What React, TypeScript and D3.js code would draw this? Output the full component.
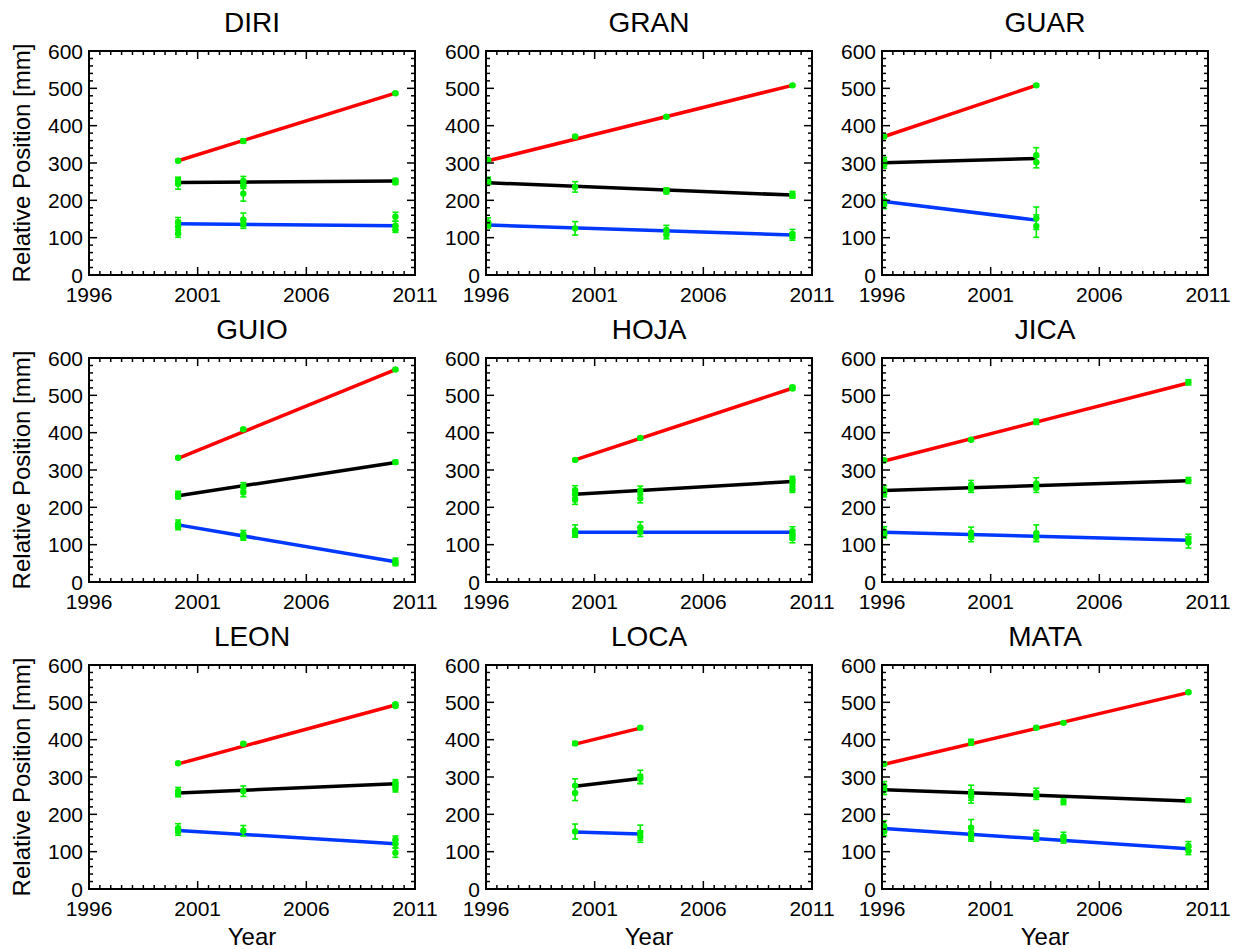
import React from "react";
import * as d3 from "d3";

type Pt = [number, number, number];
type Seg = [number, number, number, number];

const stations = ["DIRI", "GRAN", "GUAR", "GUIO", "HOJA", "JICA", "LEON", "LOCA", "MATA"];
const xTickLabels = [1996, 2001, 2006, 2011];
const yTickLabels = [0, 100, 200, 300, 400, 500, 600];

const redLines: Seg[] = [
  [2000.1, 306, 2010.1, 487],
  [1996.1, 306, 2010.1, 508],
  [1996.1, 371, 2003.1, 508],
  [2000.1, 331, 2010.1, 569],
  [2000.1, 327, 2010.1, 519],
  [1996.1, 324, 2010.1, 533],
  [2000.1, 335, 2010.1, 493],
  [2000.1, 388, 2003.1, 431],
  [1996.1, 334, 2010.1, 526],
];
const blackLines: Seg[] = [
  [2000.1, 248, 2010.1, 252],
  [1996.1, 247, 2010.1, 214],
  [1996.1, 301, 2003.1, 312],
  [2000.1, 231, 2010.1, 320],
  [2000.1, 235, 2010.1, 269],
  [1996.1, 245, 2010.1, 271],
  [2000.1, 257, 2010.1, 282],
  [2000.1, 275, 2003.1, 296],
  [1996.1, 266, 2010.1, 236],
];
const blueLines: Seg[] = [
  [2000.1, 137, 2010.1, 132],
  [1996.1, 134, 2010.1, 107],
  [1996.1, 197, 2003.1, 147],
  [2000.1, 153, 2010.1, 54],
  [2000.1, 133, 2010.1, 133],
  [1996.1, 133, 2010.1, 112],
  [2000.1, 157, 2010.1, 121],
  [2000.1, 153, 2003.1, 147],
  [1996.1, 162, 2010.1, 108],
];

const redPoints: Pt[][] = [
  [[2000.1, 306, 3], [2003.1, 359, 5], [2010.1, 487, 3]],
  [[1996.1, 308, 3], [2000.1, 371, 3], [2004.3, 424, 3], [2010.1, 508, 3]],
  [[1996.1, 371, 3], [2003.1, 508, 3]],
  [[2000.1, 333, 3], [2003.1, 409, 3], [2010.1, 569, 3]],
  [[2000.1, 327, 3], [2003.1, 386, 3], [2010.1, 522, 4], [2010.1, 518, 4]],
  [[1996.1, 326, 3], [2000.1, 381, 3], [2003.1, 429, 7], [2010.1, 535, 7]],
  [[2000.1, 337, 3], [2003.1, 389, 3], [2010.1, 495, 3], [2010.1, 490, 3]],
  [[2000.1, 390, 5], [2003.1, 432, 3]],
  [[1996.1, 335, 3], [2000.1, 393, 8], [2003.1, 432, 3], [2004.35, 445, 3], [2010.1, 527, 3]],
];
const blackPoints: Pt[][] = [
  [[2000.1, 252, 10], [2000.1, 244, 14], [2003.1, 252, 12], [2003.1, 240, 8], [2003.1, 218, 20], [2010.1, 253, 5], [2010.1, 248, 5]],
  [[1996.1, 254, 8], [1996.1, 248, 6], [2000.1, 236, 14], [2004.3, 227, 6], [2004.3, 223, 5], [2010.1, 216, 8], [2010.1, 212, 6]],
  [[1996.1, 305, 10], [1996.1, 296, 10], [2003.1, 321, 20], [2003.1, 302, 15]],
  [[2000.1, 235, 8], [2000.1, 229, 6], [2003.1, 256, 10], [2003.1, 240, 12], [2010.1, 321, 5]],
  [[2000.1, 246, 12], [2000.1, 235, 10], [2000.1, 220, 12], [2003.1, 245, 12], [2003.1, 224, 12], [2010.1, 275, 8], [2010.1, 265, 8], [2010.1, 248, 8]],
  [[1996.1, 246, 12], [1996.1, 238, 10], [2000.1, 260, 12], [2000.1, 250, 10], [2003.1, 264, 15], [2003.1, 252, 12], [2010.1, 272, 8]],
  [[2000.1, 262, 10], [2000.1, 255, 8], [2003.1, 262, 14], [2010.1, 285, 8], [2010.1, 279, 6], [2010.1, 268, 8]],
  [[2000.1, 277, 18], [2000.1, 257, 20], [2003.1, 300, 18], [2003.1, 295, 12]],
  [[1996.1, 276, 12], [1996.1, 265, 12], [2000.1, 258, 20], [2000.1, 248, 18], [2003.1, 258, 12], [2003.1, 250, 10], [2004.35, 234, 8], [2010.1, 238, 5]],
];
const bluePoints: Pt[][] = [
  [[2000.1, 142, 12], [2000.1, 130, 10], [2000.1, 111, 10], [2003.1, 148, 18], [2003.1, 137, 12], [2010.1, 156, 12], [2010.1, 132, 12], [2010.1, 122, 8]],
  [[1996.1, 141, 12], [1996.1, 134, 8], [2000.1, 125, 18], [2004.3, 121, 12], [2004.3, 107, 10], [2010.1, 110, 12], [2010.1, 103, 10]],
  [[1996.1, 200, 15], [1996.1, 190, 12], [2003.1, 152, 30], [2003.1, 131, 30]],
  [[2000.1, 156, 10], [2000.1, 148, 8], [2003.1, 128, 10], [2003.1, 120, 8], [2010.1, 56, 8], [2010.1, 50, 6]],
  [[2000.1, 138, 15], [2000.1, 130, 10], [2003.1, 146, 15], [2003.1, 134, 12], [2010.1, 136, 12], [2010.1, 126, 12], [2010.1, 117, 12]],
  [[1996.1, 136, 12], [1996.1, 128, 10], [2000.1, 132, 15], [2000.1, 120, 12], [2003.1, 131, 22], [2003.1, 120, 12], [2010.1, 116, 12], [2010.1, 106, 15]],
  [[2000.1, 163, 12], [2000.1, 154, 10], [2003.1, 156, 14], [2010.1, 132, 10], [2010.1, 121, 10], [2010.1, 97, 12]],
  [[2000.1, 154, 20], [2003.1, 151, 20], [2003.1, 140, 15]],
  [[1996.1, 168, 15], [1996.1, 155, 12], [2000.1, 164, 22], [2000.1, 150, 18], [2000.1, 140, 12], [2003.1, 145, 12], [2003.1, 138, 10], [2004.35, 140, 12], [2004.35, 133, 10], [2010.1, 115, 12], [2010.1, 102, 10]],
];

const W = 1233;
const H = 949;
const colLeft = [89, 486, 882];
const rowTop = [51, 358, 665];
const PW = 326;
const PH = 224;
const FONT = "'Liberation Sans', Arial, Helvetica, sans-serif";
const GREEN = "#00f000";
const lineColors = ["#ff0000", "#000000", "#0038ff"];

function Panel({ idx }: { idx: number }) {
  const col = idx % 3;
  const row = Math.floor(idx / 3);
  const x0 = colLeft[col];
  const y0 = rowTop[row];
  const x = d3.scaleLinear().domain([1996, 2011]).range([x0, x0 + PW]);
  const y = d3.scaleLinear().domain([0, 600]).range([y0 + PH, y0]);
  const minorX = d3.range(1996, 2011.01, 0.5);
  const minorY = d3.range(0, 601, 20);
  const lines = [redLines[idx], blackLines[idx], blueLines[idx]];
  const pts = [...redPoints[idx], ...blackPoints[idx], ...bluePoints[idx]];
  const lineGen = d3.line<[number, number]>().x((d) => x(d[0])).y((d) => y(d[1]));
  const ticks: React.ReactNode[] = [];
  minorX.forEach((v, i) => {
    const major = Math.abs((v - 1996) % 5) < 1e-6;
    const len = major ? 8 : 4;
    const px = x(v);
    ticks.push(<line key={"xb" + i} x1={px} x2={px} y1={y0 + PH} y2={y0 + PH - len} />);
    ticks.push(<line key={"xt" + i} x1={px} x2={px} y1={y0} y2={y0 + len} />);
  });
  minorY.forEach((v, i) => {
    const major = v % 100 === 0;
    const len = major ? 8 : 4;
    const py = y(v);
    ticks.push(<line key={"yl" + i} x1={x0} x2={x0 + len} y1={py} y2={py} />);
    ticks.push(<line key={"yr" + i} x1={x0 + PW} x2={x0 + PW - len} y1={py} y2={py} />);
  });
  return (
    <g>
      <text x={x0 + PW / 2} y={y0 - 19} textAnchor="middle" fontSize={28} fontFamily={FONT}>
        {stations[idx]}
      </text>
      {lines.map((s, i) => (
        <path
          key={"l" + i}
          d={lineGen([[s[0], s[1]], [s[2], s[3]]]) || ""}
          stroke={lineColors[i]}
          strokeWidth={3.5}
          fill="none"
        />
      ))}
      {pts.map((p, i) => {
        const px = x(p[0]);
        return (
          <g key={"p" + i} stroke={GREEN} strokeWidth={1.6}>
            <line x1={px} x2={px} y1={y(p[1] - p[2])} y2={y(p[1] + p[2])} />
            <line x1={px - 3} x2={px + 3} y1={y(p[1] - p[2])} y2={y(p[1] - p[2])} />
            <line x1={px - 3} x2={px + 3} y1={y(p[1] + p[2])} y2={y(p[1] + p[2])} />
            <circle cx={px} cy={y(p[1])} r={3.2} fill={GREEN} stroke="none" />
          </g>
        );
      })}
      <g stroke="#000" strokeWidth={1.5}>{ticks}</g>
      <rect x={x0} y={y0} width={PW} height={PH} fill="none" stroke="#000" strokeWidth={2} />
      {yTickLabels.map((v) => (
        <text
          key={"yt" + v}
          x={x0 - 6}
          y={y(v) + 7.5}
          textAnchor="end"
          fontSize={21}
          fontFamily={FONT}
        >
          {v}
        </text>
      ))}
      {xTickLabels.map((v) => (
        <text key={"xt" + v} x={x(v)} y={y0 + PH + 27} textAnchor="middle" fontSize={21} fontFamily={FONT}>
          {v}
        </text>
      ))}
      {col === 0 && (
        <text
          transform={`translate(30,${y0 + PH / 2}) rotate(-90)`}
          textAnchor="middle"
          fontSize={24}
          fontFamily={FONT}
        >
          Relative Position [mm]
        </text>
      )}
      {row === 2 && (
        <text x={x0 + PW / 2} y={945} textAnchor="middle" fontSize={24} fontFamily={FONT}>
          Year
        </text>
      )}
    </g>
  );
}

export default function App() {
  return (
    <svg
      width={W}
      height={H}
      viewBox={`0 0 ${W} ${H}`}
      style={{ position: "absolute", left: 0, top: 0, background: "#fff" }}
    >
      <rect x={0} y={0} width={W} height={H} fill="#fff" />
      {stations.map((s, i) => (
        <Panel key={s} idx={i} />
      ))}
    </svg>
  );
}
